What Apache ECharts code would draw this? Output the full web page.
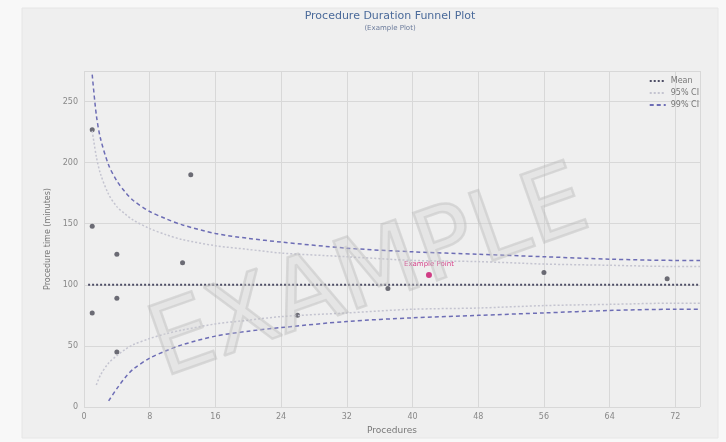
<!DOCTYPE html>
<html lang="en">
<head>
  <meta charset="UTF-8">
  <title>Procedure Duration Funnel Plot</title>
  <style>
    html, body { margin: 0; padding: 0; background: #f8f8f8; }
    #main { width: 726px; height: 442px; }
  </style>
</head>
<body>
  <div id="main"></div>
  <script src="https://cdn.jsdelivr.net/npm/echarts@6/dist/echarts.min.js"></script>
  <script>
    // 控制限
    var ciN = [1, 1.5, 2, 3, 4, 5, 6, 8, 10, 12, 16, 20, 24, 32, 40, 48, 56, 64, 72, 75];
    var upper99 = [272, 239, 220, 198, 185, 176, 169, 160, 154, 149, 142, 138, 135, 130, 127, 125, 123, 121, 120, 120];
    var upper95 = [226, 205, 191, 174, 164, 158, 153, 146, 141, 137, 132, 129, 126, 123, 120, 119, 117, 116, 115, 115];
    var lower95 = [null, 18, 26, 36, 42, 47, 51, 56, 60, 63, 68, 71, 74, 77, 80, 81, 83, 84, 85, 85];
    var lower99 = [null, null, null, 5, 15, 24, 31, 40, 46, 51, 58, 62, 65, 70, 73, 75, 77, 79, 80, 80];

    var meanN = [0.5, 75];
    var meanV = [100, 100];

    // 散点
    var procN = [1, 1, 1, 4, 4, 4, 13, 12, 26, 37, 56, 71];
    var procTime = [227, 148, 77, 125, 89, 45, 190, 118, 75, 97, 110, 105];

    var examplePoint = [42, 108];

    function pairs(xs, ys) {
      var out = [];
      for (var i = 0; i < xs.length; i++) {
        if (ys[i] !== null) out.push([xs[i], ys[i]]);
      }
      return out;
    }

    var myChart = echarts.init(document.getElementById('main'));

    var ci99Style = { color: '#6d6db5', width: 1.5, type: [4, 3] };
    var ci95Style = { color: '#c4c4d0', width: 1.5, type: [2, 2] };
    var meanStyle = { color: '#4e4e66', width: 2, type: [2, 2] };

    myChart.setOption({
      backgroundColor: '#f8f8f8',
      textStyle: { fontFamily: 'DejaVu Sans' },
      title: {
        text: 'Procedure Duration Funnel Plot',
        subtext: '(Example Plot)',
        left: 385,
        top: 6,
        textAlign: 'center',
        itemGap: 3,
        textStyle: { fontSize: 11, fontWeight: 'normal', color: '#4a6a9a' },
        subtextStyle: { fontSize: 7, color: '#6a7a9a' }
      },
      legend: {
        orient: 'vertical',
        right: 22,
        top: 72,
        itemWidth: 16,
        itemHeight: 8,
        itemGap: 4,
        itemStyle: { opacity: 0 },
        textStyle: { fontSize: 8, color: '#777' },
        data: ['Mean', '95% CI', '99% CI']
      },
      graphic: [
        {
          type: 'rect',
          z: -10,
          shape: { x: 22, y: 8, width: 696, height: 430 },
          style: { fill: '#efefef', stroke: '#e6e6e6' }
        },
        {
          type: 'text',
          z: 100,
          x: 370,
          y: 277,
          rotation: 0.34,
          style: {
            text: 'EXAMPLE',
            fontSize: 98,
            fontFamily: 'DejaVu Sans',
            align: 'center',
            verticalAlign: 'middle',
            fill: 'rgba(205,205,205,0.3)',
            stroke: 'rgba(180,180,180,0.4)',
            lineWidth: 2.5
          }
        }
      ],
      grid: { left: 84, right: 26, top: 71, bottom: 35 },
      xAxis: {
        type: 'value',
        min: 0,
        max: 75,
        interval: 8,
        name: 'Procedures',
        nameLocation: 'middle',
        nameGap: 15,
        nameTextStyle: { fontSize: 9, color: '#777' },
        axisLine: { show: false },
        axisTick: { show: false },
        axisLabel: { fontSize: 8, color: '#888', showMaxLabel: false, margin: 6 },
        splitLine: { lineStyle: { color: '#d8d8d8' } }
      },
      yAxis: {
        type: 'value',
        min: 0,
        max: 275,
        interval: 50,
        name: 'Procedure time (minutes)',
        nameLocation: 'middle',
        nameGap: 32,
        nameTextStyle: { fontSize: 8, color: '#777' },
        axisLine: { show: false },
        axisTick: { show: false },
        axisLabel: { fontSize: 8, color: '#888', showMaxLabel: false, margin: 6 },
        splitLine: { lineStyle: { color: '#d8d8d8' } }
      },
      series: [
        {
          name: 'Mean', type: 'line', data: pairs(meanN, meanV),
          symbol: 'none', lineStyle: meanStyle, itemStyle: { color: meanStyle.color }
        },
        {
          name: '95% CI', type: 'line', data: pairs(ciN, upper95), smooth: 0.3,
          symbol: 'none', lineStyle: ci95Style, itemStyle: { color: ci95Style.color }
        },
        {
          name: '95% CI', type: 'line', data: pairs(ciN, lower95), smooth: 0.3,
          symbol: 'none', lineStyle: ci95Style, itemStyle: { color: ci95Style.color }
        },
        {
          name: '99% CI', type: 'line', data: pairs(ciN, upper99), smooth: 0.3,
          symbol: 'none', lineStyle: ci99Style, itemStyle: { color: ci99Style.color }
        },
        {
          name: '99% CI', type: 'line', data: pairs(ciN, lower99), smooth: 0.3,
          symbol: 'none', lineStyle: ci99Style, itemStyle: { color: ci99Style.color }
        },
        {
          name: 'Procedures', type: 'scatter', data: pairs(procN, procTime),
          symbolSize: 5, itemStyle: { color: '#4a4a55' }
        },
        {
          name: 'Example Point', type: 'scatter', data: [examplePoint],
          symbolSize: 6, itemStyle: { color: '#c8106a' },
          label: {
            show: true, position: 'top', distance: 4,
            formatter: 'Example Point', fontSize: 7, color: '#d0106e'
          }
        }
      ]
    });
  </script>
</body>
</html>
